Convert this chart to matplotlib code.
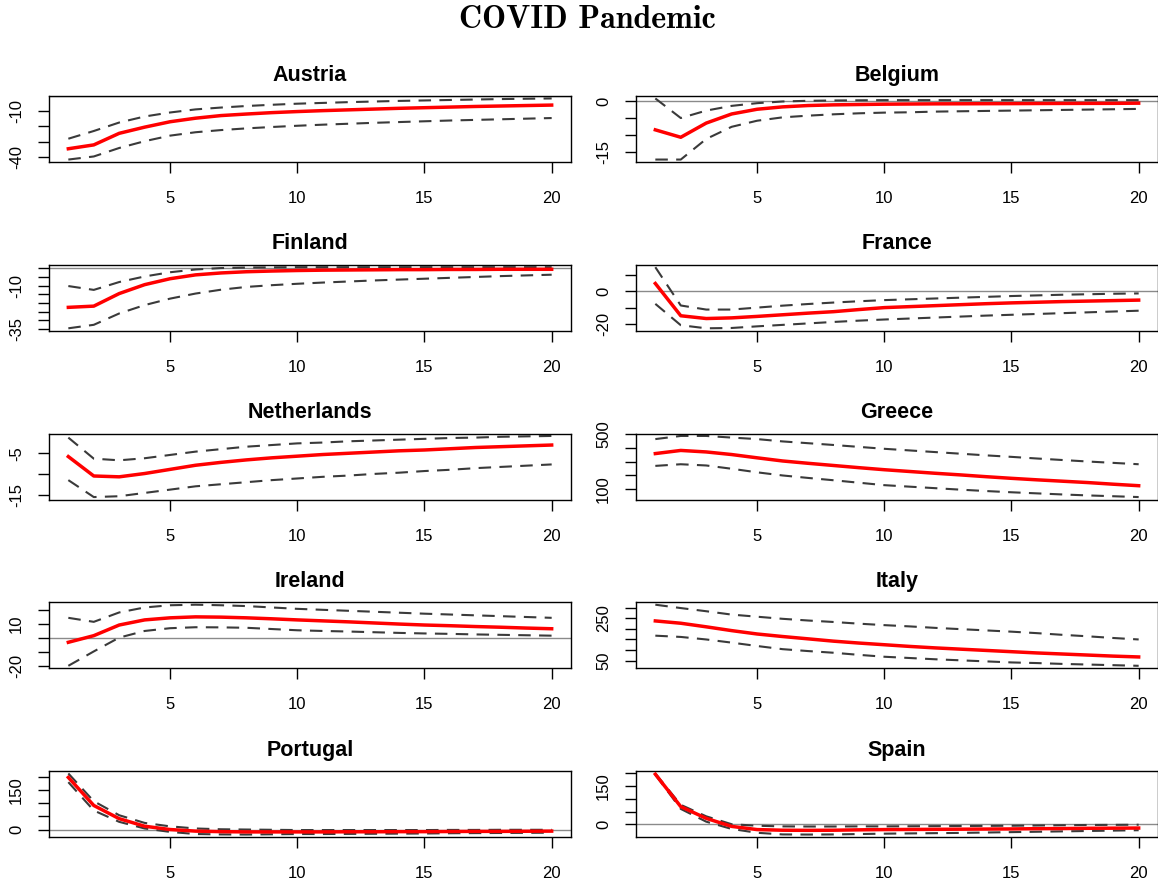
import matplotlib
matplotlib.use('Agg')
import matplotlib.pyplot as plt
import numpy as np

# horizons 1..20
steps = list(range(1, 21))

# impulse responses: median (red) and bands (dashed)
austria_mid = [-34.5, -32, -24.5, -20.5, -17, -14.7, -13, -12, -11.1, -10.4, -9.8, -9.3, -8.8, -8.3, -7.9, -7.5, -7.1, -6.8, -6.5, -6.2]
austria_hi = [-28, -23, -17.5, -13.6, -11, -9, -7.8, -6.8, -6, -5.3, -4.8, -4.3, -3.9, -3.5, -3.2, -2.9, -2.6, -2.3, -2.1, -1.9]
austria_lo = [-41.5, -39.5, -34, -29.6, -26, -23.8, -22.4, -21.3, -20.4, -19.6, -18.9, -18.3, -17.7, -17.2, -16.7, -16.2, -15.8, -15.4, -15, -14.6]

belgium_mid = [-8.5, -10.7, -6.5, -3.8, -2.4, -1.7, -1.3, -1.1, -1.0, -0.9, -0.85, -0.8, -0.78, -0.75, -0.73, -0.7, -0.68, -0.66, -0.65, -0.6]
belgium_hi = [0.8, -5.0, -2.8, -1.4, -0.6, -0.1, 0.1, 0.2, 0.25, 0.3, 0.3, 0.3, 0.3, 0.3, 0.3, 0.3, 0.3, 0.3, 0.3, 0.3]
belgium_lo = [-17.3, -17.3, -11.2, -7.6, -5.8, -4.8, -4.3, -3.9, -3.6, -3.4, -3.3, -3.1, -3.0, -2.9, -2.8, -2.7, -2.6, -2.5, -2.4, -2.3]

finland_mid = [-22.5, -21.8, -14.6, -9.5, -6.1, -3.9, -2.8, -2.1, -1.7, -1.4, -1.2, -1.1, -1.0, -0.9, -0.9, -0.8, -0.8, -0.7, -0.7, -0.7]
finland_hi = [-10.3, -12.5, -8, -4.8, -2.4, -0.8, 0.0, 0.3, 0.4, 0.5, 0.5, 0.5, 0.5, 0.5, 0.5, 0.5, 0.5, 0.5, 0.5, 0.5]
finland_lo = [-34.5, -32.5, -26, -21.2, -17.5, -14.6, -12.4, -10.8, -9.8, -9.0, -8.3, -7.7, -7.1, -6.6, -6.1, -5.6, -5.1, -4.6, -4.2, -3.8]

france_mid = [4.8, -15, -16.7, -16.3, -15.4, -14.4, -13.4, -12.5, -11.2, -10, -9.4, -8.8, -8.2, -7.6, -7.1, -6.7, -6.3, -6.0, -5.7, -5.4]
france_hi = [14.8, -8.7, -11.2, -11.2, -10, -8.8, -7.8, -6.9, -6.1, -5.4, -4.9, -4.4, -3.9, -3.4, -2.9, -2.5, -2.1, -1.8, -1.5, -1.3]
france_lo = [-7.7, -20.8, -22.7, -22.5, -21.5, -20.6, -19.7, -18.8, -18.0, -17.3, -16.7, -16.1, -15.5, -14.9, -14.4, -13.9, -13.4, -12.9, -12.4, -11.9]

netherlands_mid = [-5.8, -10.5, -10.7, -9.9, -8.9, -7.9, -7.2, -6.6, -6.1, -5.7, -5.3, -5.0, -4.7, -4.4, -4.2, -3.9, -3.6, -3.4, -3.2, -3.0]
netherlands_hi = [-1.2, -6.3, -6.7, -6.2, -5.4, -4.6, -4.0, -3.4, -3.0, -2.6, -2.4, -2.1, -1.9, -1.7, -1.5, -1.3, -1.2, -1.0, -0.9, -0.8]
netherlands_lo = [-11.5, -15.6, -15.4, -14.6, -13.8, -13.0, -12.5, -12.0, -11.5, -11.1, -10.7, -10.4, -10.0, -9.7, -9.3, -9.0, -8.6, -8.3, -8.0, -7.7]

greece_mid = [359, 382, 371, 352, 328, 305, 288, 272, 256, 241, 228, 215, 203, 190, 178, 167, 157, 147, 135, 124]
greece_hi = [465, 488, 488, 476, 465, 448, 435, 422, 408, 394, 382, 370, 358, 346, 335, 323, 312, 301, 291, 281]
greece_lo = [269, 281, 272, 248, 222, 199, 181, 164, 146, 128, 117, 106, 95, 85, 76, 68, 60, 53, 47, 41]

ireland_mid = [-3.2, 1.6, 9.3, 13, 14.5, 15.2, 15.0, 14.5, 13.8, 13.0, 12.3, 11.6, 10.8, 10.0, 9.3, 8.8, 8.2, 7.7, 7.1, 6.6]
ireland_hi = [14.5, 11.6, 18.4, 22, 23.6, 24, 23.6, 23, 22, 21, 20.3, 19.6, 18.9, 18.2, 17.5, 16.9, 16.3, 15.7, 15.1, 14.5]
ireland_lo = [-20.2, -9.8, 0.2, 5, 7, 7.7, 7.6, 7.3, 6.4, 5.5, 5.0, 4.6, 4.1, 3.6, 3.2, 2.9, 2.5, 2.2, 1.9, 1.6]

italy_mid = [238, 227, 210, 192, 176, 164, 153, 142, 133, 125, 117, 110, 104, 98, 92, 86, 81, 76, 71, 67]
italy_hi = [315, 299, 284, 268, 258, 248, 240, 233, 225, 218, 212, 205, 199, 193, 187, 180, 172, 165, 157, 150]
italy_lo = [168, 162, 150, 135, 119, 104, 95, 87, 77, 68, 62, 56, 51, 46, 41, 38, 34, 31, 28, 25]

portugal_mid = [197, 91, 41, 12.5, 0, -6, -8, -9, -9, -9, -9, -8.5, -8.5, -8, -8, -7.5, -7, -7, -6.5, -6]
portugal_hi = [212, 107, 54, 25, 12, 4, 1, 0, -1, -2, -2, -2, -2, -2, -2, -1.5, -1.5, -1, -1, -1]
portugal_lo = [179, 72, 29, 4, -9, -17, -18.5, -19, -18, -17, -17, -16.5, -16, -15.5, -15, -14, -13.5, -13, -12.5, -12]

spain_mid = [197, 70, 24, -7.5, -20, -22.5, -23, -22.5, -21, -20, -19.5, -19, -18.5, -18, -17.5, -16.5, -16, -15, -14.5, -14]
spain_hi = [200, 77, 32, 1, -5, -7.5, -8, -8, -7.5, -7.5, -7, -6.5, -6, -5.5, -5, -4, -3, -2, -1.5, -1]
spain_lo = [195, 61, 11, -17.5, -32.5, -39, -39.5, -39, -37.5, -36, -35, -34, -33, -31.5, -30, -28.5, -27, -25.5, -24, -22.5]

countries = ['Austria', 'Belgium', 'Finland', 'France', 'Netherlands',
             'Greece', 'Ireland', 'Italy', 'Portugal', 'Spain']

xticks = [5, 10, 15, 20]
yticks = [[-40, -30, -20, -10], [-15, -10, -5, 0], [-35, -30, -25, -20, -15, -10, -5, 0],
          [-20, -10, 0, 10], [-15, -10, -5], [100, 200, 300, 400, 500],
          [-20, -10, 0, 10, 20], [50, 100, 150, 200, 250, 300],
          [0, 50, 100, 150, 200], [0, 50, 100, 150, 200]]
# R drops labels that would overlap, only these show
ylabels = [['-40', '', '', '-10'], ['-15', '', '', '0'], ['-35', '', '', '', '', '-10', '', ''],
           ['-20', '', '0', ''], ['-15', '', '-5'], ['100', '', '', '', '500'],
           ['-20', '', '', '10', ''], ['50', '', '', '', '250', ''],
           ['0', '', '', '150', ''], ['0', '', '', '150', '']]

series = [(austria_mid, austria_lo, austria_hi), (belgium_mid, belgium_lo, belgium_hi),
          (finland_mid, finland_lo, finland_hi), (france_mid, france_lo, france_hi),
          (netherlands_mid, netherlands_lo, netherlands_hi), (greece_mid, greece_lo, greece_hi),
          (ireland_mid, ireland_lo, ireland_hi), (italy_mid, italy_lo, italy_hi),
          (portugal_mid, portugal_lo, portugal_hi), (spain_mid, spain_lo, spain_hi)]

plt.rcParams['font.family'] = ['Liberation Sans', 'DejaVu Sans']

W, H = 1158, 884
fig = plt.figure(figsize=(W / 100, H / 100), dpi=100)
fig.text(587 / W, 1 - 19 / H, 'COVID Pandemic', family='cmb10', fontsize=23,
         ha='center', va='center')

for i, name in enumerate(countries):
    row, col = i // 2, i % 2
    left = 49 if col == 0 else 636
    top = 96 + row * 168.75
    h = 66
    ax = fig.add_axes([left / W, 1 - (top + h) / H, 522 / W, h / H])

    mid, lo, hi = series[i]
    ax.axhline(0, color='#8a8a8a', lw=1.0, zorder=1)
    ax.plot(steps, hi, color='#3a3a3a', lw=1.5, ls=(0, (6, 4)), zorder=2)
    ax.plot(steps, lo, color='#3a3a3a', lw=1.5, ls=(0, (6, 4)), zorder=2)
    ax.plot(steps, mid, color='red', lw=2.5, zorder=3)

    # R style 4% padding on both axes
    ymin = min(lo + hi + mid)
    ymax = max(lo + hi + mid)
    pad = 0.04 * (ymax - ymin)
    ax.set_ylim(ymin - pad, ymax + pad)
    ax.set_xlim(1 - 0.76, 20 + 0.76)

    ax.set_xticks(xticks, labels=[str(t) for t in xticks])
    ax.set_yticks(yticks[i], labels=ylabels[i])
    ax.tick_params(direction='out', length=8, width=1, labelsize=12, colors='black')
    ax.tick_params(axis='x', pad=13)
    ax.tick_params(axis='y', pad=10, labelrotation=90)
    for lab in ax.get_yticklabels():
        lab.set_va('center')
    for sp in ax.spines.values():
        sp.set_linewidth(1.0)
    ax.set_title(name, fontsize=15.5, fontweight='bold', pad=11)

plt.savefig('out.png', dpi=100)
plt.close()
